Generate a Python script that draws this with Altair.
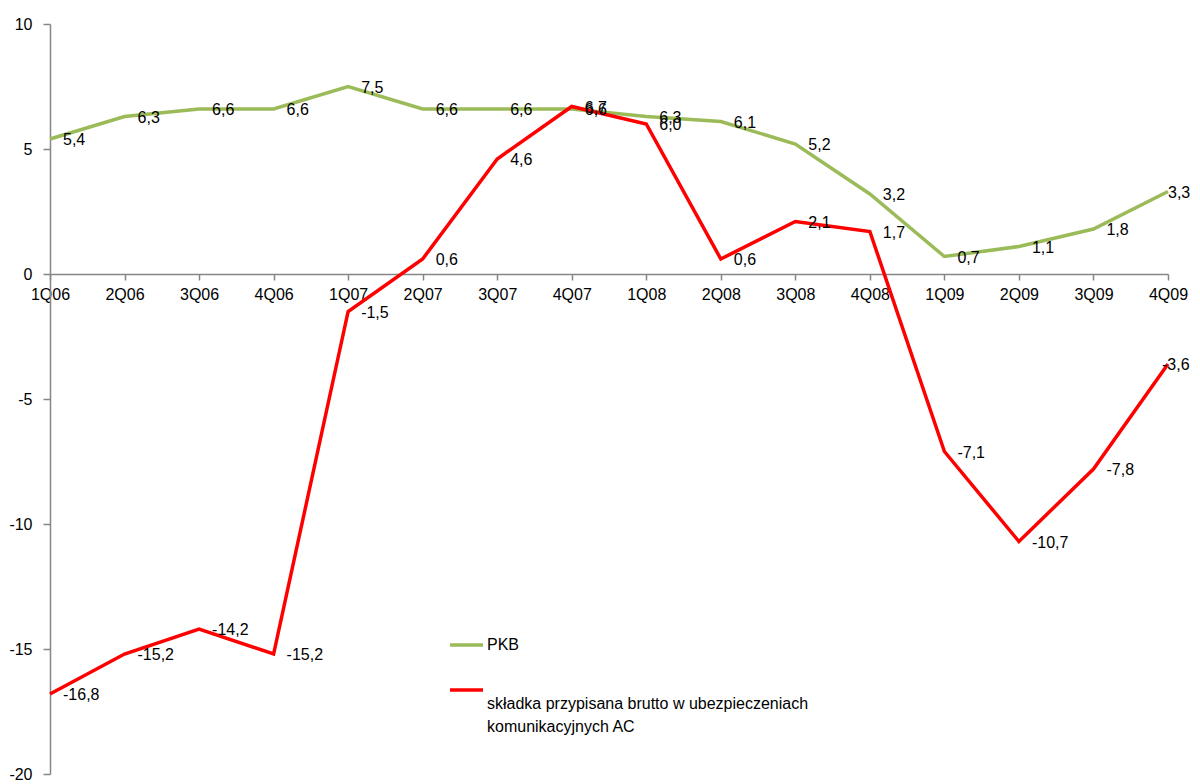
import altair as alt
import pandas as pd

quarters = ["1Q06", "2Q06", "3Q06", "4Q06", "1Q07", "2Q07", "3Q07", "4Q07",
            "1Q08", "2Q08", "3Q08", "4Q08", "1Q09", "2Q09", "3Q09", "4Q09"]
pkb = [5.4, 6.3, 6.6, 6.6, 7.5, 6.6, 6.6, 6.6, 6.3, 6.1, 5.2, 3.2, 0.7, 1.1, 1.8, 3.3]
skladka = [-16.8, -15.2, -14.2, -15.2, -1.5, 0.6, 4.6, 6.7, 6.0, 0.6, 2.1, 1.7,
           -7.1, -10.7, -7.8, -3.6]
series_names = ["PKB", "składka przypisana brutto w ubezpieczeniach komunikacyjnych AC"]
series_colors = ["#9BBB59", "#FF0000"]
legend_lines = [["PKB"], ["składka przypisana brutto w ubezpieczeniach", "komunikacyjnych AC"]]
y_ticks = [-20, -15, -10, -5, 0, 5, 10]

rows = []
for s, vals in zip(series_names, [pkb, skladka]):
    for q, v in zip(quarters, vals):
        rows.append({"kwartal": q, "seria": s, "wartosc": v,
                     "etykieta": f"{v:.1f}".replace(".", ",")})
df = pd.DataFrame(rows)

FONT = "Liberation Sans"
FS = 16
AXIS_GRAY = "#868686"

x = alt.X("kwartal:N", sort=quarters,
          scale=alt.Scale(type="point", padding=0),
          axis=alt.Axis(title=None, labelAngle=0, offset=-500, tickSize=6,
                        labelPadding=6, domainColor=AXIS_GRAY, tickColor=AXIS_GRAY,
                        domainWidth=1.5, tickWidth=1.5, labelFontSize=FS,
                        labelColor="black", labelFont=FONT, grid=False))
y = alt.Y("wartosc:Q",
          scale=alt.Scale(domain=[-20, 10], nice=False, zero=False),
          axis=alt.Axis(title=None, values=y_ticks, grid=False, tickSize=7,
                        labelPadding=11, domainColor=AXIS_GRAY, tickColor=AXIS_GRAY,
                        domainWidth=1.5, tickWidth=1.5, labelFontSize=FS,
                        labelColor="black", labelFont=FONT,
                        labelExpr="toString(datum.value)"))
color = alt.Color("seria:N", scale=alt.Scale(domain=series_names, range=series_colors),
                  legend=None)

base = alt.Chart(df)
lines = base.mark_line(strokeWidth=3.5).encode(x=x, y=y, color=color)

labels = base.transform_filter(alt.datum.kwartal != quarters[-1]).mark_text(
    align="left", baseline="middle", dx=13, dy=1, fontSize=FS, font=FONT, color="black"
).encode(x=x, y=y, text="etykieta:N")

last_green = base.transform_filter(
    (alt.datum.kwartal == quarters[-1]) & (alt.datum.seria == series_names[0])
).mark_text(
    align="left", baseline="middle", dx=0, dy=1, fontSize=FS, font=FONT, color="black"
).encode(x=x, y=y, text="etykieta:N")

last_red = base.transform_filter(
    (alt.datum.kwartal == quarters[-1]) & (alt.datum.seria == series_names[1])
).mark_text(
    align="left", baseline="middle", dx=-6, dy=1, fontSize=FS, font=FONT, color="black"
).encode(x=x, y=y, text="etykieta:N")

one = alt.Data(values=[{"k": 1}])
legend_layers = []
legend_pos = [(621, 621), (666, 679.5)]
for col, lns, (ly, ty) in zip(series_colors, legend_lines, legend_pos):
    legend_layers.append(
        alt.Chart(one).mark_rule(color=col, strokeWidth=3.5).encode(
            x=alt.value(400), x2=alt.value(433), y=alt.value(ly)))
    legend_layers.append(
        alt.Chart(one).mark_text(align="left", baseline="middle", fontSize=FS,
                                 font=FONT, color="black", lineHeight=23).encode(
            x=alt.value(437), y=alt.value(ty), text=alt.value(lns)))

chart = alt.layer(lines, labels, last_green, last_red, *legend_layers).properties(
    width=1118, height=750,
    padding={"left": 42, "top": 16, "right": 24, "bottom": 8},
    autosize=alt.AutoSizeParams(type="none"),
    background="white",
).configure_view(stroke=None)

chart.save("out.html", embed_options={"renderer": "svg", "actions": False})
